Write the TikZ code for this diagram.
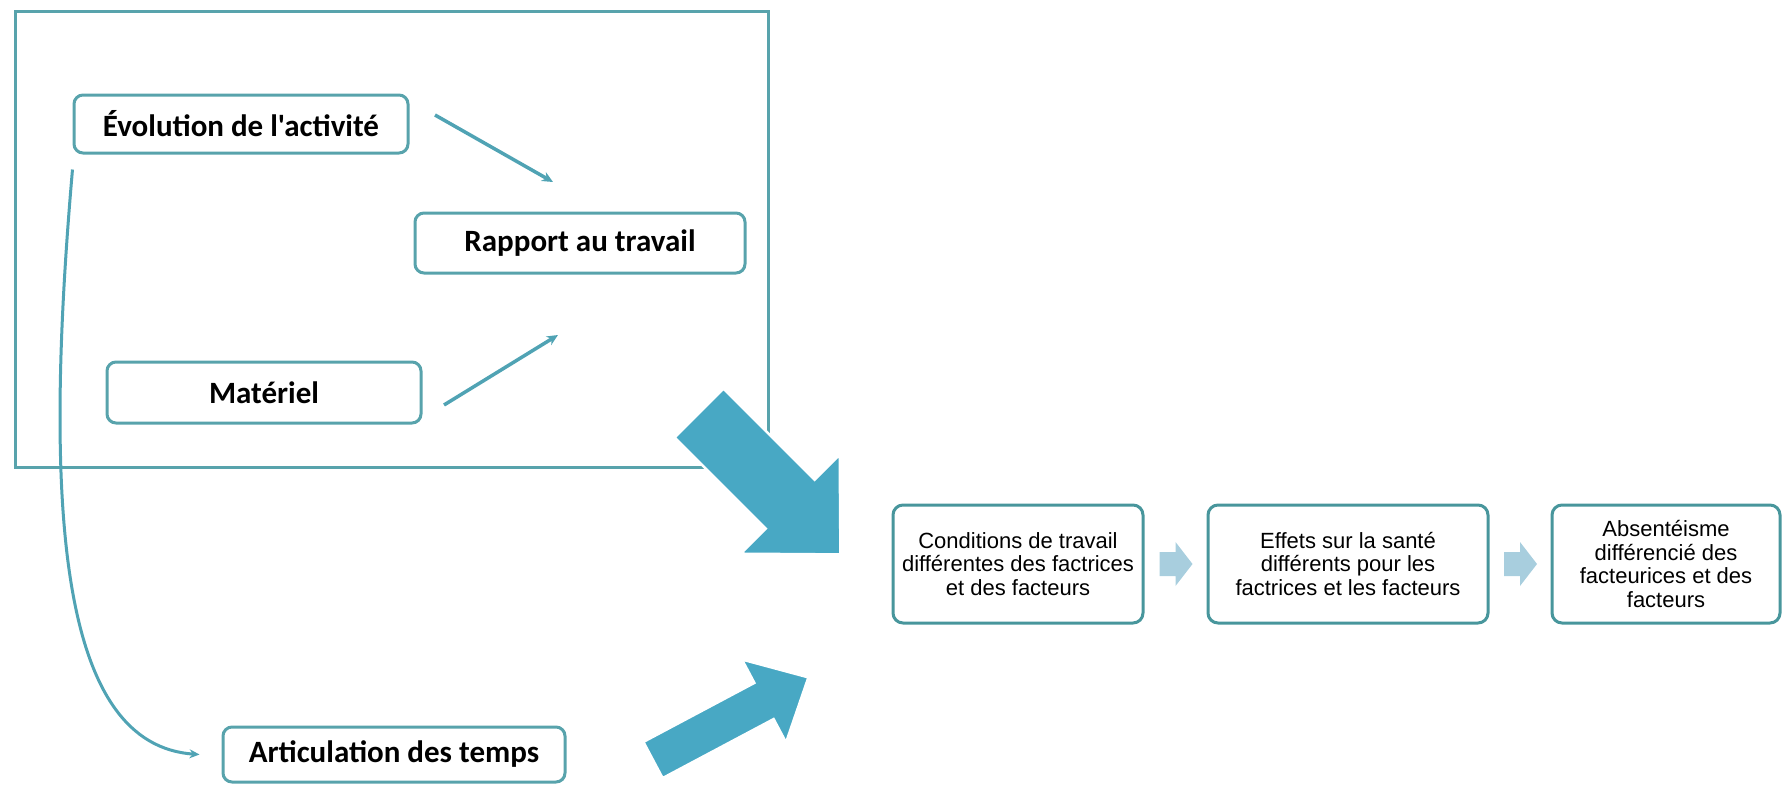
\documentclass[tikz,border=0pt]{standalone}
\usepackage{fontspec}
\setmainfont{Liberation Sans}
\newfontfamily\calibrifont{Carlito}
\usepackage{xcolor}
\usepackage{tikz}
\usetikzlibrary{calc,arrows.meta}

\definecolor{frameteal}{RGB}{88,163,172}
\definecolor{boxteal}{RGB}{72,150,156}
\definecolor{linkteal}{RGB}{80,163,180}
\definecolor{bigblue}{RGB}{72,168,196}
\definecolor{paleblue}{RGB}{168,206,222}

\begin{document}
\begin{tikzpicture}[x=1pt,y=-1pt,
        bigbox/.style={draw=frameteal, line width=3pt, rounded corners=9pt, fill=white, inner sep=0pt,
            font=\calibrifont\bfseries\fontsize{31}{36}\selectfont},
        smallbox/.style={draw=boxteal, line width=3pt, rounded corners=10pt, fill=white, inner sep=0pt,
            align=center, minimum height=118pt, font=\fontsize{22}{23.5}\selectfont},
        thinlink/.style={linkteal, line width=3.5pt, -{Stealth[length=11pt,width=10pt]}},
        bigarrow/.style={fill=bigblue, draw=white, line width=2.5pt},
        chevron/.style={fill=paleblue}]
        \useasboundingbox (0,0) rectangle (1782,784);

        % Frame round the three factors
        \draw[frameteal, line width=3pt] (15,12) rectangle (768,467);

        \node[bigbox, minimum width=334pt, minimum height=58pt] (evol) at (241,124) {Évolution de l'activité};
        \node[bigbox, minimum width=330pt, minimum height=60pt] (rapport) at (580,243) {Rapport au travail};
        \node[bigbox, minimum width=314pt, minimum height=61pt] (materiel) at (264,392.5) {Matériel};
        \node[bigbox, minimum width=342pt, minimum height=55pt] (artic) at (394,754.5) {Articulation des temps};

        \coordinate (evolout) at (435,115);
        \coordinate (rapportin) at (553,182);
        \coordinate (matout) at (444,405);
        \coordinate (rapportin2) at (558,335);
        \draw[thinlink] (evolout) -- (rapportin);
        \draw[thinlink] (matout) -- (rapportin2);

        \draw[linkteal, line width=3pt, -{Stealth[length=10pt,width=9pt]}]
            ([yshift=-15pt]evol.south west) .. controls (42,520) and (62,745) .. ([xshift=-22pt]artic.west);

        % Big arrows
        \begin{scope}[shift={(699,413)},rotate=-45]
            \draw[bigarrow] (0,-34.5) -- (129,-34.5) -- (129,-70) -- (200,0) -- (129,70) -- (129,34.5) -- (0,34.5) -- cycle;
        \end{scope}
        \begin{scope}[shift={(653,760)},rotate=28]
            \draw[bigarrow] (0,-20.5) -- (125.7,-20.5) -- (125.7,-47) -- (176,0) -- (125.7,47) -- (125.7,20.5) -- (0,20.5) -- cycle;
        \end{scope}

        % Chain
        \node[smallbox, minimum width=250pt] (cond) at (1018,564) {Conditions de travail\\différentes des factrices\\et des facteurs};
        \node[smallbox, minimum width=280pt] (effets) at (1348,564) {Effets sur la santé\\différents pour les\\factrices et les facteurs};
        \node[smallbox, minimum width=228pt] (absent) at (1666,564) {Absentéisme\\différencié des\\facteurices et des\\facteurs};

        \foreach \a/\b in {cond/effets,effets/absent}
            \fill[chevron] ($(\a.east)!0.5!(\b.west)$) ++(-16,-12) -- ++(16,0) -- ++(0,-10) -- ++(17,22)
                -- ++(-17,22) -- ++(0,-10) -- ++(-16,0) -- cycle;
    \end{tikzpicture}
\end{document}
